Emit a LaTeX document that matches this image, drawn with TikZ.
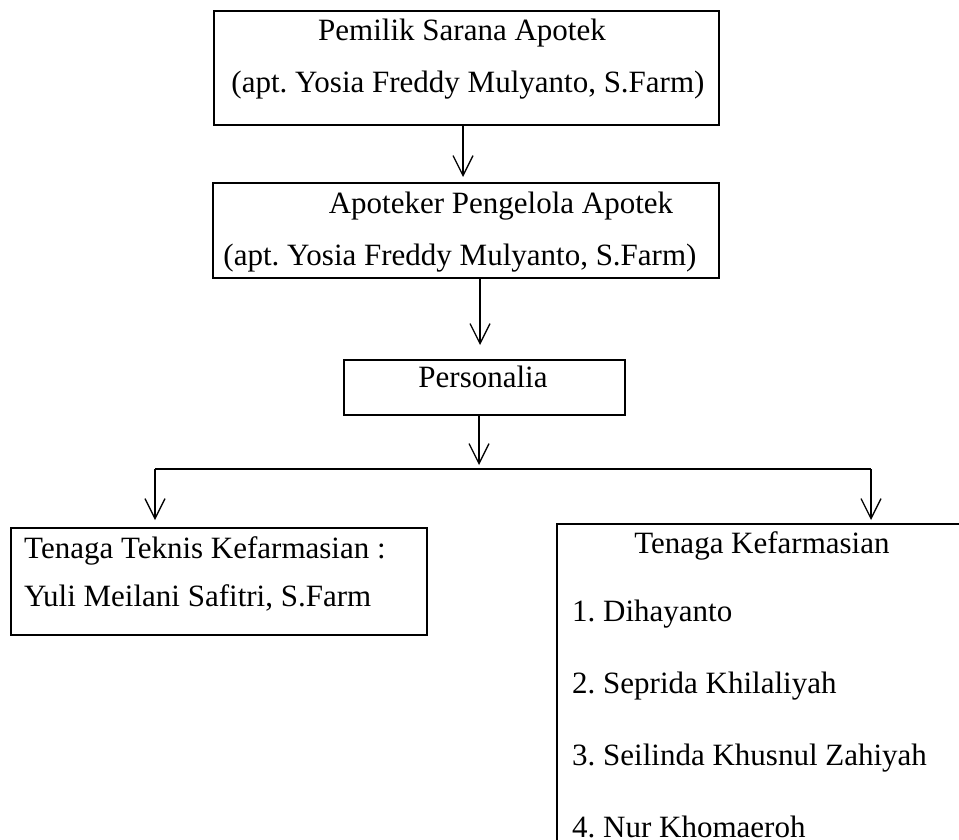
\documentclass[tikz,border=0pt]{standalone}
\usepackage{fontspec}
\setmainfont{Liberation Serif}
\usetikzlibrary{arrows.meta}
\frenchspacing

\begin{document}
\begin{tikzpicture}[x=1pt,y=-1pt,
    box/.style={draw,line width=2pt,inner sep=0pt,anchor=north west},
    txt/.style={inner sep=0pt,anchor=base,font=\fontsize{31}{36}\selectfont},
    item/.style={txt,anchor=base west},
    arr/.style={-{Straight Barb[length=20pt,width=20pt]},line width=1.3pt}]

\useasboundingbox (0,0) rectangle (959,840);
\clip (0,0) rectangle (959,840);

% boxes
\node [box,minimum width=505pt,minimum height=114pt] (owner) at (213,10) {};
\node [box,minimum width=506pt,minimum height=95pt] (apa) at (212,182) {};
\node [box,minimum width=281pt,minimum height=55pt] (staff) at (343,359) {};
\node [box,minimum width=416pt,minimum height=107pt] (ttk) at (10,527) {};
\node [box,minimum width=420pt,minimum height=340pt] (tk) at (556,523) {};

% texts
\node [txt] (ownerA) at (462,41) {Pemilik Sarana Apotek};
\node [txt] (ownerB) at (468,93) {(apt. Yosia Freddy Mulyanto, S.Farm)};
\node [txt] (apaA) at (501,213) {Apoteker Pengelola Apotek};
\node [txt] (apaB) at (460,265) {(apt. Yosia Freddy Mulyanto, S.Farm)};
\node [txt] (staffA) at (483,387) {Personalia};
\node [item] (ttkA) at (24,558) {Tenaga Teknis Kefarmasian :};
\node [item] (ttkB) at (24,606) {Yuli Meilani Safitri, S.Farm};
\node [txt] (tkA) at (762,553) {Tenaga Kefarmasian};

\foreach \n/\name [count=\i] in {1/Dihayanto,2/Seprida Khilaliyah,3/Seilinda Khusnul Zahiyah,4/Nur Khomaeroh}
    \node [item] (tk\i) at (572,549+72*\i) {\n. \name};

% connectors
\coordinate (down1) at ([xshift=-3.5pt]owner.south);
\coordinate (down2) at ([xshift=14pt]apa.south);
\coordinate (down3) at ([xshift=-5.5pt]staff.south);
\coordinate (split) at (478,469);
\coordinate (splitL) at (155,469);
\coordinate (splitR) at (871,469);

\draw [arr,shorten >=5pt] (down1) -- (down1 |- apa.north);
\draw [arr,shorten >=14pt] (down2) -- (down2 |- staff.north);
\draw [arr,shorten >=4pt] (down3) -- (down3 |- split);
\draw [line width=2pt] (splitL) -- (splitR);
\draw [arr,shorten >=7pt] (splitL) -- (splitL |- ttk.north);
\draw [arr,shorten >=3pt] (splitR) -- (splitR |- tk.north);

\end{tikzpicture}
\end{document}
